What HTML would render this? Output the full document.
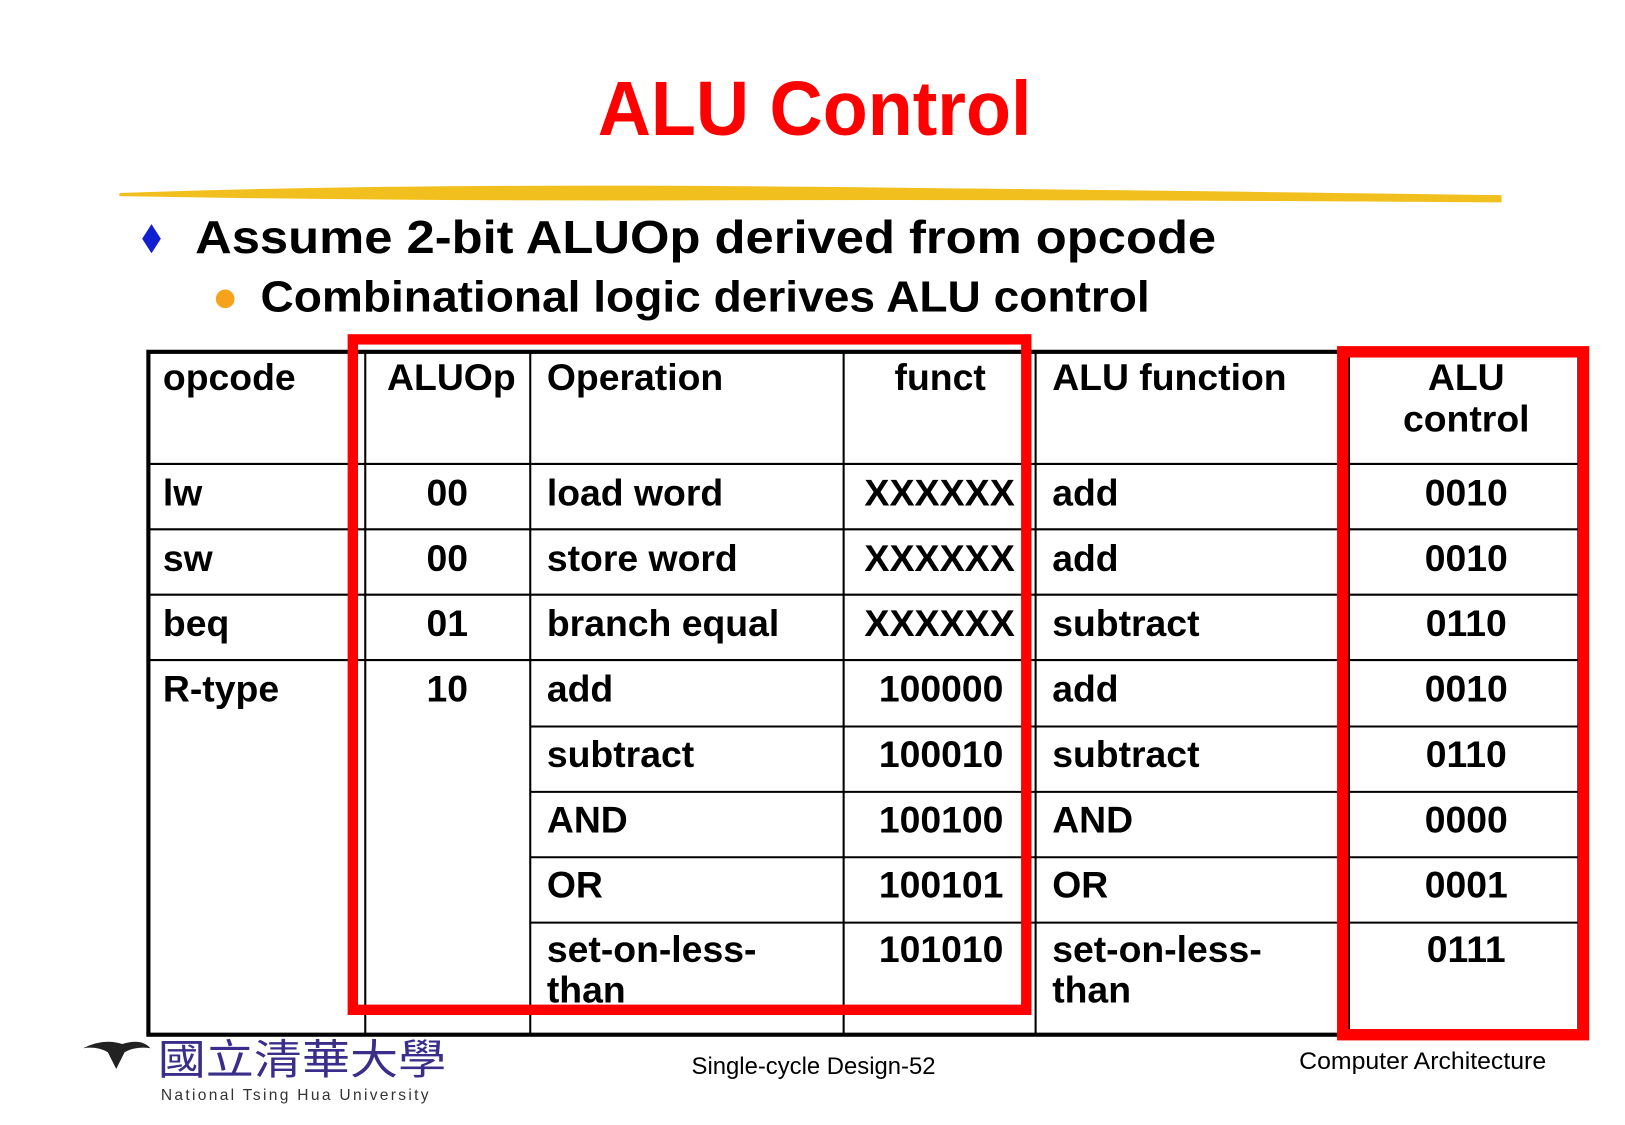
<!DOCTYPE html>
<html><head><meta charset="utf-8"><style>
html,body{margin:0;padding:0;background:#fff;width:1625px;height:1125px;overflow:hidden}
svg{display:block}
text{font-family:"Liberation Sans",sans-serif}
.c{font-size:36px;font-weight:bold;fill:#000}
</style></head><body>
<svg width="1625" height="1125" viewBox="0 0 1566 1084" preserveAspectRatio="none" xmlns="http://www.w3.org/2000/svg">
<text x="785" y="130" text-anchor="middle" font-size="74" font-weight="bold" fill="#f00" textLength="418" lengthAdjust="spacingAndGlyphs">ALU  Control</text>
<path d="M115 186 Q400 176 780 180 T1447 188 L1447 195 Q1000 192 700 193 T115 189 Z" fill="#f2c01e"/>
<polygon points="146,216 155,230 146,244 137,230" fill="#1020d0"/>
<text x="188" y="244" font-size="45" font-weight="bold" textLength="984" lengthAdjust="spacingAndGlyphs">Assume 2-bit ALUOp derived from opcode</text>
<circle cx="217" cy="288" r="9" fill="#f7a21b"/>
<text x="251" y="300" font-size="42" font-weight="bold" textLength="857" lengthAdjust="spacingAndGlyphs">Combinational logic derives ALU control</text>
<g stroke="#000" fill="none">
<rect x="143" y="339" width="1379" height="658" stroke-width="4"/>
<g stroke-width="2">
<line x1="143" y1="447" x2="1522" y2="447"/>
<line x1="143" y1="510" x2="1522" y2="510"/>
<line x1="143" y1="573" x2="1522" y2="573"/>
<line x1="143" y1="636" x2="1522" y2="636"/>
<line x1="511" y1="700" x2="1522" y2="700"/>
<line x1="511" y1="763" x2="1522" y2="763"/>
<line x1="511" y1="826" x2="1522" y2="826"/>
<line x1="511" y1="889" x2="1522" y2="889"/>
<line x1="352" y1="339" x2="352" y2="997"/>
<line x1="511" y1="339" x2="511" y2="997"/>
<line x1="813" y1="339" x2="813" y2="997"/>
<line x1="998" y1="339" x2="998" y2="997"/>
<line x1="1300" y1="339" x2="1300" y2="997"/>
</g></g>
<g class="c">
<text x="157" y="376" class="c">opcode</text>
<text x="373" y="376" class="c">ALUOp</text>
<text x="527" y="376" class="c">Operation</text>
<text x="950" y="376" class="c" text-anchor="end">funct</text>
<text x="1014" y="376" class="c">ALU function</text>
<text x="1413" y="376" class="c" text-anchor="middle">ALU</text>
<text x="1413" y="416" class="c" text-anchor="middle">control</text>

<text x="157" y="487" class="c">lw</text><text x="431" y="487" class="c" text-anchor="middle">00</text><text x="527" y="487" class="c">load word</text><text x="833" y="487" class="c" textLength="145" lengthAdjust="spacingAndGlyphs">XXXXXX</text><text x="1014" y="487" class="c">add</text><text x="1413" y="487" class="c" text-anchor="middle">0010</text>
<text x="157" y="550" class="c">sw</text><text x="431" y="550" class="c" text-anchor="middle">00</text><text x="527" y="550" class="c">store word</text><text x="833" y="550" class="c" textLength="145" lengthAdjust="spacingAndGlyphs">XXXXXX</text><text x="1014" y="550" class="c">add</text><text x="1413" y="550" class="c" text-anchor="middle">0010</text>
<text x="157" y="613" class="c">beq</text><text x="431" y="613" class="c" text-anchor="middle">01</text><text x="527" y="613" class="c">branch equal</text><text x="833" y="613" class="c" textLength="145" lengthAdjust="spacingAndGlyphs">XXXXXX</text><text x="1014" y="613" class="c">subtract</text><text x="1413" y="613" class="c" text-anchor="middle">0110</text>
<text x="157" y="676" class="c">R-type</text><text x="431" y="676" class="c" text-anchor="middle">10</text><text x="527" y="676" class="c">add</text><text x="967" y="676" class="c" text-anchor="end">100000</text><text x="1014" y="676" class="c">add</text><text x="1413" y="676" class="c" text-anchor="middle">0010</text>
<text x="527" y="739" class="c">subtract</text><text x="967" y="739" class="c" text-anchor="end">100010</text><text x="1014" y="739" class="c">subtract</text><text x="1413" y="739" class="c" text-anchor="middle">0110</text>
<text x="527" y="802" class="c">AND</text><text x="967" y="802" class="c" text-anchor="end">100100</text><text x="1014" y="802" class="c">AND</text><text x="1413" y="802" class="c" text-anchor="middle">0000</text>
<text x="527" y="865" class="c">OR</text><text x="967" y="865" class="c" text-anchor="end">100101</text><text x="1014" y="865" class="c">OR</text><text x="1413" y="865" class="c" text-anchor="middle">0001</text>
<text x="527" y="927" class="c">set-on-less-</text><text x="527" y="966" class="c">than</text><text x="967" y="927" class="c" text-anchor="end">101010</text><text x="1014" y="927" class="c">set-on-less-</text><text x="1014" y="966" class="c">than</text><text x="1413" y="927" class="c" text-anchor="middle">0111</text>
</g>
<rect x="340" y="327" width="649" height="646" fill="none" stroke="#f00" stroke-width="10"/>
<rect x="1294" y="339" width="232" height="658" fill="none" stroke="#f00" stroke-width="11"/>
<path d="M80 1010 Q100 1000 118 1006 Q136 1000 145 1010 Q130 1008 120 1014 L112 1030 L104 1014 Q94 1008 80 1010Z" fill="#222"/>
<text x="152" y="1035" font-size="40" fill="#3a2e8a" font-family="'Noto Serif CJK TC','Noto Serif CJK SC',serif" textLength="278" lengthAdjust="spacingAndGlyphs">國立清華大學</text>
<text x="155" y="1060" font-size="15" fill="#333" letter-spacing="2" textLength="260">National Tsing Hua University</text>
<text x="784" y="1035" font-size="23" text-anchor="middle" fill="#000">Single-cycle Design-52</text>
<text x="1252" y="1030" font-size="23" fill="#000" textLength="238" lengthAdjust="spacingAndGlyphs">Computer Architecture</text>
</svg>
</body></html>
